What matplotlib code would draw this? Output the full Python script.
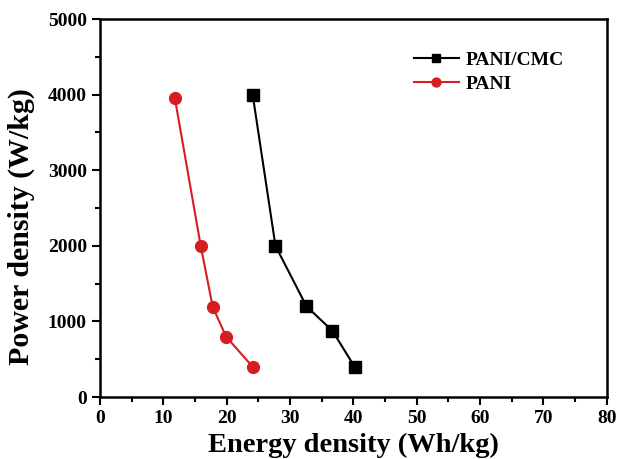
import numpy as np
from matplotlib import pyplot as plt
from matplotlib.ticker import MultipleLocator

# energy density (Wh/kg) vs power density (W/kg)
cmc_energy = [24.1, 27.7, 32.6, 36.7, 40.2]
cmc_power = [4000, 2000, 1200, 875, 400]
pani_energy = [11.8, 15.9, 17.8, 19.9, 24.1]
pani_power = [3960, 2000, 1190, 800, 400]

plt.rcParams['font.family'] = ['Liberation Serif', 'DejaVu Serif']
plt.rcParams['font.weight'] = 'bold'

fig = plt.figure(figsize=(6.19, 4.59), dpi=100)
ax = fig.add_axes([0.1616, 0.135, 0.8185, 0.8236])

ax.plot(cmc_energy, cmc_power, color='black', marker='s', markersize=8,
        linewidth=1.5, label='PANI/CMC')
ax.plot(pani_energy, pani_power, color='#d41e24', marker='o', markersize=8.5,
        linewidth=1.5, label='PANI')

ax.set_xlim(0, 80)
ax.set_ylim(0, 5000)
ax.xaxis.set_major_locator(MultipleLocator(10))
ax.xaxis.set_minor_locator(MultipleLocator(5))
ax.yaxis.set_major_locator(MultipleLocator(1000))
ax.yaxis.set_minor_locator(MultipleLocator(500))
ax.tick_params(which='both', direction='out', width=1.5, labelsize=14)
ax.tick_params(which='major', length=6)
ax.tick_params(which='minor', length=3.5)
for sp in ax.spines.values():
    sp.set_linewidth(1.8)
for lab in ax.get_xticklabels() + ax.get_yticklabels():
    lab.set_fontweight('bold')

ax.set_xlabel('Energy density (Wh/kg)', fontsize=20.5, fontweight='bold', labelpad=4)
ax.set_ylabel('Power density (W/kg)', fontsize=21.5, fontweight='bold')
ax.yaxis.set_label_coords(-0.128, 0.45)

leg = ax.legend(loc='upper right', bbox_to_anchor=(0.95, 0.96), frameon=False,
                prop={'size': 14, 'weight': 'bold'}, handlelength=2.3,
                handletextpad=0.35, labelspacing=0.3, markerscale=0.75)

fig.savefig('out.png', dpi=100)
